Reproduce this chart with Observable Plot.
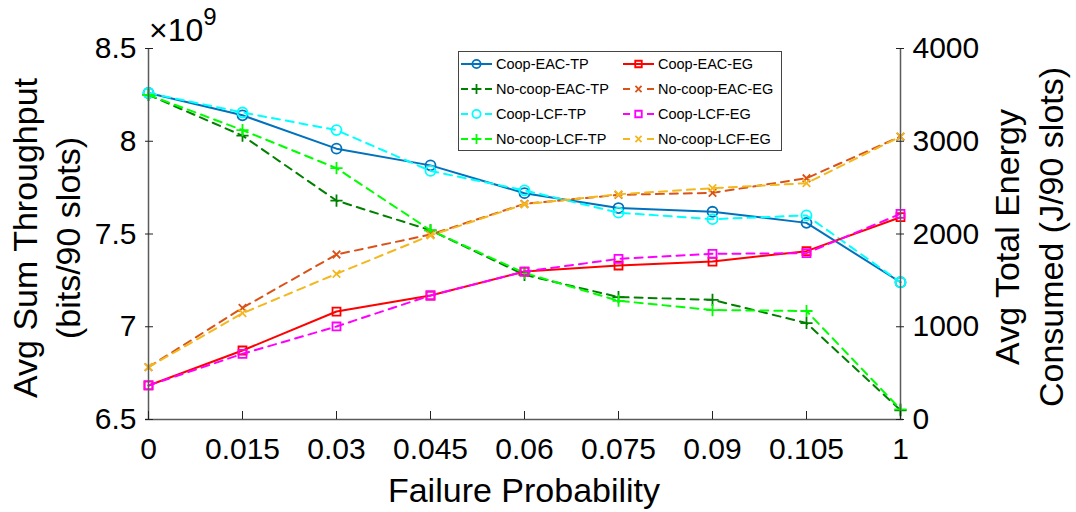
<!DOCTYPE html>
<html>
<head>
<meta charset="utf-8">
<script src="https://cdn.jsdelivr.net/npm/d3@7"></script>
<script src="https://cdn.jsdelivr.net/npm/@observablehq/plot@0.6"></script>
<style>
  body { margin: 0; background: #fff; }
  #chart { width: 1076px; height: 512px; position: relative; }
</style>
</head>
<body>
<div id="chart"></div>
<script>
// ---- data ----
const categories = ["0", "0.015", "0.03", "0.045", "0.06", "0.075", "0.09", "0.105", "1"];

// throughput, left axis (x 1e9 bits / 90 slots)
const coopEacTP   = [8.26, 8.14, 7.96, 7.87, 7.72, 7.64, 7.62, 7.56, 7.24];
const noCoopEacTP = [8.25, 8.03, 7.68, 7.52, 7.28, 7.16, 7.145, 7.02, 6.55];
const coopLcfTP   = [8.26, 8.155, 8.06, 7.84, 7.735, 7.615, 7.58, 7.60, 7.24];
const noCoopLcfTP = [8.25, 8.06, 7.855, 7.52, 7.29, 7.14, 7.09, 7.085, 6.555];

// energy, right axis (J / 90 slots)
const coopEacEG   = [367, 744, 1164, 1337, 1595, 1660, 1703, 1815, 2181];
const noCoopEacEG = [564, 1204, 1779, 1994, 2325, 2422, 2444, 2601, 3051];
const coopLcfEG   = [367, 708, 1003, 1337, 1595, 1732, 1786, 1793, 2217];
const noCoopLcfEG = [564, 1146, 1571, 1984, 2320, 2428, 2494, 2548, 3051];

const leftTicks  = [6.5, 7, 7.5, 8, 8.5];
const rightTicks = [0, 1000, 2000, 3000, 4000];
const leftDomain  = [6.5, 8.5];
const rightDomain = [0, 4000];

// ---- series styling ----
const DASH = "8,6";
const series = [
  {name: "Coop-EAC-TP",    values: coopEacTP,   axis: "left",  color: "#0072BD", dash: null, symbol: "circle", r: 5},
  {name: "No-coop-EAC-TP", values: noCoopEacTP, axis: "left",  color: "#008000", dash: DASH, symbol: "plus",   r: 4},
  {name: "Coop-LCF-TP",    values: coopLcfTP,   axis: "left",  color: "#00FFFF", dash: DASH, symbol: "circle", r: 5},
  {name: "No-coop-LCF-TP", values: noCoopLcfTP, axis: "left",  color: "#00FF00", dash: DASH, symbol: "plus",   r: 4},
  {name: "Coop-EAC-EG",    values: coopEacEG,   axis: "right", color: "#FF0000", dash: null, symbol: "square", r: 4.5},
  {name: "No-coop-EAC-EG", values: noCoopEacEG, axis: "right", color: "#D95319", dash: DASH, symbol: "times",  r: 3.5},
  {name: "Coop-LCF-EG",    values: coopLcfEG,   axis: "right", color: "#FF00FF", dash: DASH, symbol: "square", r: 4.5},
  {name: "No-coop-LCF-EG", values: noCoopLcfEG, axis: "right", color: "#F2B81E", dash: DASH, symbol: "times",  r: 3.5}
];

// map right-axis values onto the left-axis domain (linear)
const rightToLeft = d3.scaleLinear().domain(rightDomain).range(leftDomain);
const leftToRight = rightToLeft.invert;
const rightTickPos = rightTicks.map(rightToLeft);

const marks = [];
for (const s of series) {
  const rows = s.values.map((v, i) => ({cat: categories[i], y: s.axis === "left" ? v : rightToLeft(v)}));
  marks.push(Plot.line(rows, {x: "cat", y: "y", stroke: s.color, strokeWidth: 2, strokeDasharray: s.dash || undefined}));
  marks.push(Plot.dot(rows, {x: "cat", y: "y", symbol: s.symbol, r: s.r, stroke: s.color, fill: "none", strokeWidth: 1.8}));
}

const AXIS = "#5a5a5a";
const W = 1076, H = 512;
const plot = Plot.plot({
  width: W,
  height: H,
  marginLeft: 145,
  marginRight: 173,
  marginTop: 48,
  marginBottom: 93,
  style: {fontFamily: "'Liberation Sans', Arial, sans-serif", fontSize: "30px", color: "#000", background: "#fff"},
  x: {type: "point", domain: categories, padding: 0, axis: null},
  y: {domain: leftDomain, axis: null},
  marks: [
    ...marks,
    // axis lines (no top line)
    Plot.ruleY([leftDomain[0]], {stroke: AXIS, strokeWidth: 1.5}),
    Plot.ruleX([categories[0], categories[categories.length - 1]], {stroke: AXIS, strokeWidth: 1.5}),
    // inward ticks
    Plot.axisY(leftTicks, {anchor: "left", tickSize: 8, dx: 8, tickFormat: () => "", label: null, stroke: "#222"}),
    Plot.axisY(rightTickPos, {anchor: "right", tickSize: 8, dx: -8, tickFormat: () => "", label: null, stroke: "#222"}),
    Plot.axisX(categories, {anchor: "bottom", tickSize: 8, dy: -8, tickFormat: () => "", label: null, stroke: "#222"}),
    // tick labels
    Plot.axisY(leftTicks, {anchor: "left", tickSize: 0, tickPadding: 9, fontSize: 30, label: null, fill: "#000",
      tickFormat: d => String(d)}),
    Plot.axisY(rightTickPos, {anchor: "right", tickSize: 0, tickPadding: 9, fontSize: 30, label: null, fill: "#000",
      tickFormat: d => String(Math.round(leftToRight(d)))}),
    Plot.axisX(categories, {anchor: "bottom", tickSize: 0, tickPadding: 18, fontSize: 30, label: null, fill: "#000"})
  ]
});

const svg = d3.select(plot);
const FONT = "'Liberation Sans', Arial, sans-serif";

// exponent above left axis
const expo = svg.append("text").attr("x", 149).attr("y", 41).attr("text-anchor", "start")
  .attr("font-family", FONT).attr("font-size", 32).attr("fill", "#000");
expo.append("tspan").text("\u00d710");
expo.append("tspan").attr("font-size", 24).attr("dy", -16).text("9");

// axis titles
function vlabel(x, y, txt) {
  svg.append("text").attr("transform", `translate(${x},${y}) rotate(-90)`)
    .attr("text-anchor", "middle").attr("font-family", FONT).attr("font-size", 34).attr("fill", "#000").text(txt);
}
vlabel(37, 238, "Avg Sum Throughput");
vlabel(80, 238, "(bits/90 slots)");
vlabel(1019, 237, "Avg Total Energy");
vlabel(1063, 237, "Consumed (J/90 slots)");
svg.append("text").attr("x", 524).attr("y", 502).attr("text-anchor", "middle")
  .attr("font-family", FONT).attr("font-size", 34).attr("fill", "#000").text("Failure Probability");

// legend (two columns, column-major like MATLAB)
const lg = svg.append("g");
lg.append("rect").attr("x", 458.5).attr("y", 51.5).attr("width", 323).attr("height", 99)
  .attr("fill", "#fff").attr("stroke", "#444").attr("stroke-width", 1);
const symMap = {circle: d3.symbolCircle, plus: d3.symbolPlus, square: d3.symbolSquare, times: d3.symbolTimes};
series.forEach((s, i) => {
  const col = Math.floor(i / 4), row = i % 4;
  const x0 = col === 0 ? 461 : 623;
  const cy = 64 + row * 25;
  const g = lg.append("g");
  if (!s.dash) {
    g.append("line").attr("x1", x0).attr("x2", x0 + 31).attr("y1", cy).attr("y2", cy)
      .attr("stroke", s.color).attr("stroke-width", 2);
  } else {
    g.append("line").attr("x1", x0).attr("x2", x0 + 7).attr("y1", cy).attr("y2", cy)
      .attr("stroke", s.color).attr("stroke-width", 2);
    g.append("line").attr("x1", x0 + 24).attr("x2", x0 + 31).attr("y1", cy).attr("y2", cy)
      .attr("stroke", s.color).attr("stroke-width", 2);
  }
  const size = Math.PI * (s.r * 0.82) ** 2;
  g.append("path").attr("d", d3.symbol(symMap[s.symbol], size)())
    .attr("transform", `translate(${x0 + 15.5},${cy})`)
    .attr("fill", "none").attr("stroke", s.color).attr("stroke-width", 1.8);
  g.append("text").attr("x", x0 + 35).attr("y", cy + 5.2).attr("text-anchor", "start")
    .attr("font-family", FONT).attr("font-size", 14.5).attr("fill", "#000").text(s.name);
});

document.getElementById("chart").appendChild(plot);
</script>
</body>
</html>
